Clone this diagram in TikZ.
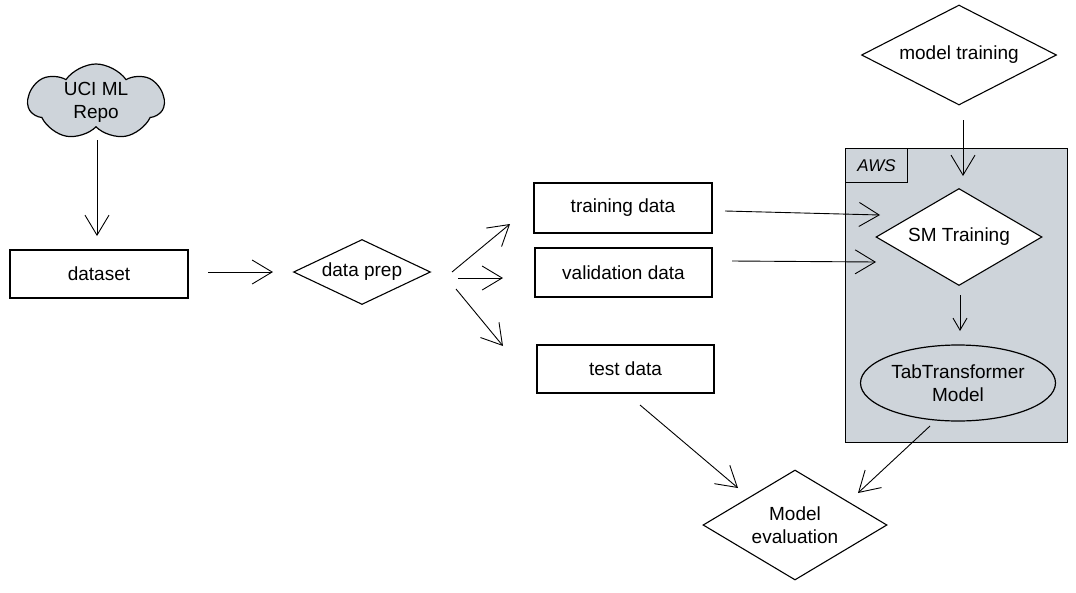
\documentclass[tikz,border=0pt]{standalone}
\usepackage{fontspec}
\setmainfont{Liberation Sans}
\usetikzlibrary{shapes.geometric,shapes.symbols,arrows.meta}
\definecolor{awsgray}{HTML}{CED4DA}
\tikzset{
  arr/.style={draw, line width=0.9pt, -{Straight Barb[length=20pt,width=24pt,line width=0.9pt]}},
  boxnode/.style={draw, line width=1.2pt, fill=white, inner sep=0pt},
  diam/.style={diamond, draw, line width=1.1pt, fill=white, inner sep=0pt},
  lbl/.style={font=\fontsize{19}{23}\selectfont, align=center},
}
\begin{document}
\begin{tikzpicture}[x=1pt,y=-1pt]
\useasboundingbox (0,0) rectangle (1076,592);
% AWS container
\node[boxnode, fill=awsgray, minimum width=222pt, minimum height=294pt, anchor=north west] (aws) at (845,148) {};
\node[boxnode, fill=awsgray, minimum width=62pt, minimum height=34pt, anchor=north west, lbl, font=\fontsize{17}{20}\selectfont\itshape] (awslbl) at (845,148) {AWS};
% cloud
\node[cloud, cloud puffs=7, cloud puff arc=110, aspect=1.9, draw, line width=1.2pt, fill=awsgray, minimum width=136pt, minimum height=76pt, inner sep=0pt] (uci) at (96,102) {};
\node[lbl] at (uci) {UCI ML\\Repo};
% boxes
\node[boxnode, minimum width=178pt, minimum height=48pt, lbl] (dataset) at (99,274) {dataset};
\node[boxnode, minimum width=178pt, minimum height=50pt, lbl] (train) at (623,208) {training data};
\node[boxnode, minimum width=177pt, minimum height=49pt, lbl] (valid) at (623.5,272.5) {validation data};
\node[boxnode, minimum width=177pt, minimum height=48pt, lbl] (test) at (625.5,369) {test data};
% diamonds
\node[diam, minimum width=137pt, minimum height=65pt] (prep) at (362,272) {};
\node[lbl] at (prep) {data prep};
\node[diam, minimum width=195pt, minimum height=100pt] (mtrain) at (959,55) {};
\node[lbl] at (mtrain) {model training};
\node[diam, minimum width=166pt, minimum height=97pt] (sm) at (959,237) {};
\node[lbl] at (sm) {SM Training};
\node[diam, minimum width=184pt, minimum height=110pt] (eval) at (795,525) {};
\node[lbl] at (eval) {Model\\evaluation};
% ellipse
\node[ellipse, draw, line width=1.2pt, fill=awsgray, minimum width=195pt, minimum height=76pt, inner sep=0pt] (tab) at (958,383) {};
\node[lbl] at (tab) {TabTransformer\\Model};
% connector ends
\coordinate (c1) at (97,140);
\coordinate (c2) at (97,236);
\coordinate (c3) at (208,272);
\coordinate (c4) at (273,272);
\coordinate (c5) at (452,272);
\coordinate (c6) at (510,224);
\coordinate (c7) at (458,278);
\coordinate (c8) at (503,278);
\coordinate (c9) at (456,289);
\coordinate (c10) at (503,346);
\coordinate (c11) at (725,211);
\coordinate (c12) at (880,215);
\coordinate (c13) at (732,261);
\coordinate (c14) at (876,262);
\coordinate (c15) at (963,120);
\coordinate (c16) at (963,176);
\coordinate (c17) at (960,295);
\coordinate (c18) at (960,331);
\coordinate (c19) at (640,405);
\coordinate (c20) at (738,488);
\coordinate (c21) at (930,426);
\coordinate (c22) at (858,493);
\draw[arr] (c1) -- (c2);
\draw[arr] (c3) -- (c4);
\draw[arr] (c5) -- (c6);
\draw[arr] (c7) -- (c8);
\draw[arr] (c9) -- (c10);
\draw[arr] (c11) -- (c12);
\draw[arr] (c13) -- (c14);
\draw[arr] (c15) -- (c16);
\draw[arr, -{Straight Barb[length=12pt,width=14pt,line width=0.9pt]}] (c17) -- (c18);
\draw[arr] (c19) -- (c20);
\draw[arr] (c21) -- (c22);
\end{tikzpicture}
\end{document}
